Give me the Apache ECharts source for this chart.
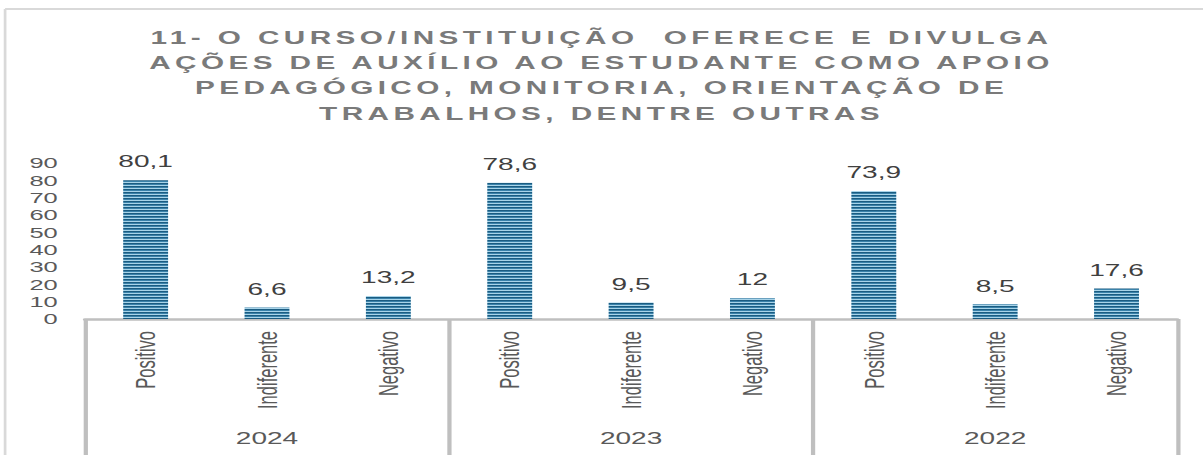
<!DOCTYPE html>
<html lang="pt">
    <head>
        <meta charset="UTF-8" />
        <title>Auxílio ao estudante</title>
        <script src="https://cdn.jsdelivr.net/npm/echarts@6.0.0/dist/echarts.min.js"></script>
        <style>
            body,
            html {
                margin: 0;
                padding: 0;
                overflow: hidden;
                background-color: #fff;
            }
            /* the source picture is stretched sideways, so draw narrow and stretch */
            #main {
                width: 708px;
                height: 455px;
                transform: scaleX(1.6992);
                transform-origin: 0 0;
            }
            #main svg text {
                white-space: pre;
            }
            /* spaced-out title letters (only the title is bold) */
            #main svg text[style*="bold"],
            #main svg text[font-weight="bold"] {
                letter-spacing: 2.6px;
            }
        </style>
    </head>
    <body>
        <div id="main"></div>
        <script>
            const titleLines = [
                "11- O CURSO/INSTITUIÇÃO  OFERECE E DIVULGA",
                "AÇÕES DE AUXÍLIO AO ESTUDANTE COMO APOIO",
                "PEDAGÓGICO, MONITORIA, ORIENTAÇÃO DE",
                "TRABALHOS, DENTRE OUTRAS",
            ]
            const years = ["2024", "2023", "2022"]
            const answers = ["Positivo", "Indiferente", "Negativo"]
            const values2024 = [80.1, 6.6, 13.2]
            const values2023 = [78.6, 9.5, 12]
            const values2022 = [73.9, 8.5, 17.6]
            const stripeColors = ["#1b5c81", "#3a82aa", "#a8d4e9"]

            const categories = years.flatMap(() => answers)
            const values = [...values2024, ...values2023, ...values2022]

            // small striped tile used as the bar fill
            const stripe = document.createElement("canvas")
            stripe.width = 4
            stripe.height = stripeColors.length
            const sctx = stripe.getContext("2d")
            stripeColors.forEach((c, i) => {
                sctx.fillStyle = c
                sctx.fillRect(0, i, 4, 1)
            })

            const font = "Liberation Sans"
            const gray = "#595959"
            const lineGray = "#bfbfbf"

            const myChart = echarts.init(document.getElementById("main"), null, { renderer: "svg" })

            const option = {
                animation: false,
                backgroundColor: "#fff",
                title: {
                    text: titleLines.join("\n"),
                    left: "center",
                    top: 25,
                    padding: 0,
                    textStyle: {
                        fontFamily: font,
                        fontWeight: "bold",
                        fontSize: 17.5,
                        lineHeight: 25.3,
                        color: "#7a7a7a",
                    },
                },
                graphic: [
                    {
                        type: "line",
                        shape: { x1: 3, y1: 9, x2: 708, y2: 9 },
                        style: { stroke: "#d9d9d9", lineWidth: 2 },
                    },
                    {
                        type: "line",
                        shape: { x1: 3, y1: 9, x2: 3, y2: 455 },
                        style: { stroke: "#d9d9d9", lineWidth: 1.6 },
                    },
                ],
                grid: {
                    left: 50,
                    right: 15.2,
                    top: 163,
                    bottom: 136,
                    outerBoundsMode: "none",
                },
                xAxis: [
                    {
                        type: "category",
                        data: categories,
                        position: "bottom",
                        axisLine: { show: true, lineStyle: { color: lineGray, width: 2.5 } },
                        axisTick: { show: false },
                        axisLabel: {
                            rotate: 90,
                            interval: 0,
                            margin: 12,
                            fontFamily: font,
                            fontSize: 16.5,
                            color: gray,
                        },
                    },
                    {
                        type: "category",
                        data: years,
                        position: "bottom",
                        axisLine: { show: false },
                        axisTick: {
                            show: true,
                            interval: 0,
                            length: 140,
                            lineStyle: { color: lineGray, width: 2.5 },
                        },
                        axisLabel: {
                            interval: 0,
                            margin: 111,
                            fontFamily: font,
                            fontSize: 16.5,
                            color: gray,
                        },
                    },
                ],
                yAxis: {
                    type: "value",
                    min: 0,
                    max: 90,
                    interval: 10,
                    axisLine: { show: false },
                    axisTick: { show: false },
                    splitLine: { show: false },
                    axisLabel: {
                        margin: 16,
                        fontFamily: font,
                        fontSize: 15,
                        color: gray,
                    },
                },
                series: [
                    {
                        type: "bar",
                        xAxisIndex: 0,
                        data: values,
                        barWidth: "37%",
                        itemStyle: {
                            color: { image: stripe, repeat: "repeat" },
                        },
                        label: {
                            show: true,
                            position: "top",
                            distance: 10,
                            fontFamily: font,
                            fontSize: 16.5,
                            color: "#404040",
                            formatter: (p) => String(p.value).replace(".", ","),
                        },
                    },
                ],
            }
            myChart.setOption(option)
        </script>
    </body>
</html>
